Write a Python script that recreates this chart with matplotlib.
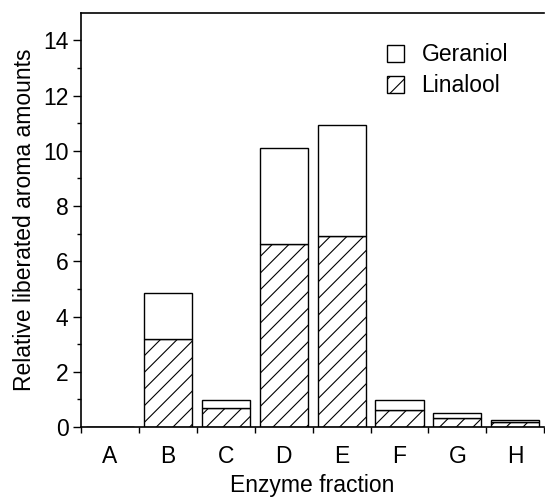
import numpy as np
import matplotlib
matplotlib.use("Agg")
import matplotlib.pyplot as plt

plt.rcParams["font.family"] = ["Liberation Sans", "DejaVu Sans"]
plt.rcParams["hatch.linewidth"] = 0.8

fractions = ["A", "B", "C", "D", "E", "F", "G", "H"]
linalool = [0.0, 3.2, 0.68, 6.64, 6.91, 0.61, 0.31, 0.18]
geraniol = [0.0, 1.64, 0.30, 3.47, 4.01, 0.37, 0.19, 0.07]

fs = 16.5

fig = plt.figure(figsize=(5.45, 4.99), dpi=100)
ax = fig.add_axes([0.1486, 0.1443, 0.85, 0.830])

x = np.arange(len(fractions)) + 0.5
w = 0.83
ax.bar(x, linalool, w, color="white", edgecolor="black", hatch="//", linewidth=1.0, label="Linalool")
ax.bar(x, geraniol, w, bottom=linalool, color="white", edgecolor="black", linewidth=1.0, label="Geraniol")

ax.set_xlim(0, len(fractions))
ax.set_ylim(0, 15)
ax.set_yticks(np.arange(0, 15, 2))
ax.set_yticks(np.arange(1, 15, 2), minor=True)
ax.set_xticks(np.arange(0, len(fractions) + 1))
ax.set_xticklabels([])
ax.set_xticks(x, minor=True)
ax.set_xticklabels(fractions, minor=True)
ax.tick_params(axis="x", which="minor", length=0, pad=13, labelsize=fs)
ax.tick_params(axis="x", which="major", length=4, direction="out", width=1.0)
ax.tick_params(axis="y", which="major", length=6, width=1.0, labelsize=fs, pad=3)
ax.tick_params(axis="y", which="minor", length=3, width=1.0)

for s in ["left", "top", "bottom"]:
    ax.spines[s].set_linewidth(1.2)
ax.spines["right"].set_visible(False)

ax.set_xlabel("Enzyme fraction", fontsize=fs, labelpad=4)
ax.set_ylabel("Relative liberated aroma amounts", fontsize=fs, labelpad=5)

handles, labels = ax.get_legend_handles_labels()
ax.legend(handles[::-1], labels[::-1], loc="upper left", bbox_to_anchor=(0.625, 0.965),
          frameon=False, fontsize=fs, handlelength=0.78, handleheight=0.78,
          handletextpad=0.75, labelspacing=0.35, borderpad=0.2)

fig.savefig("out.png", dpi=100)
